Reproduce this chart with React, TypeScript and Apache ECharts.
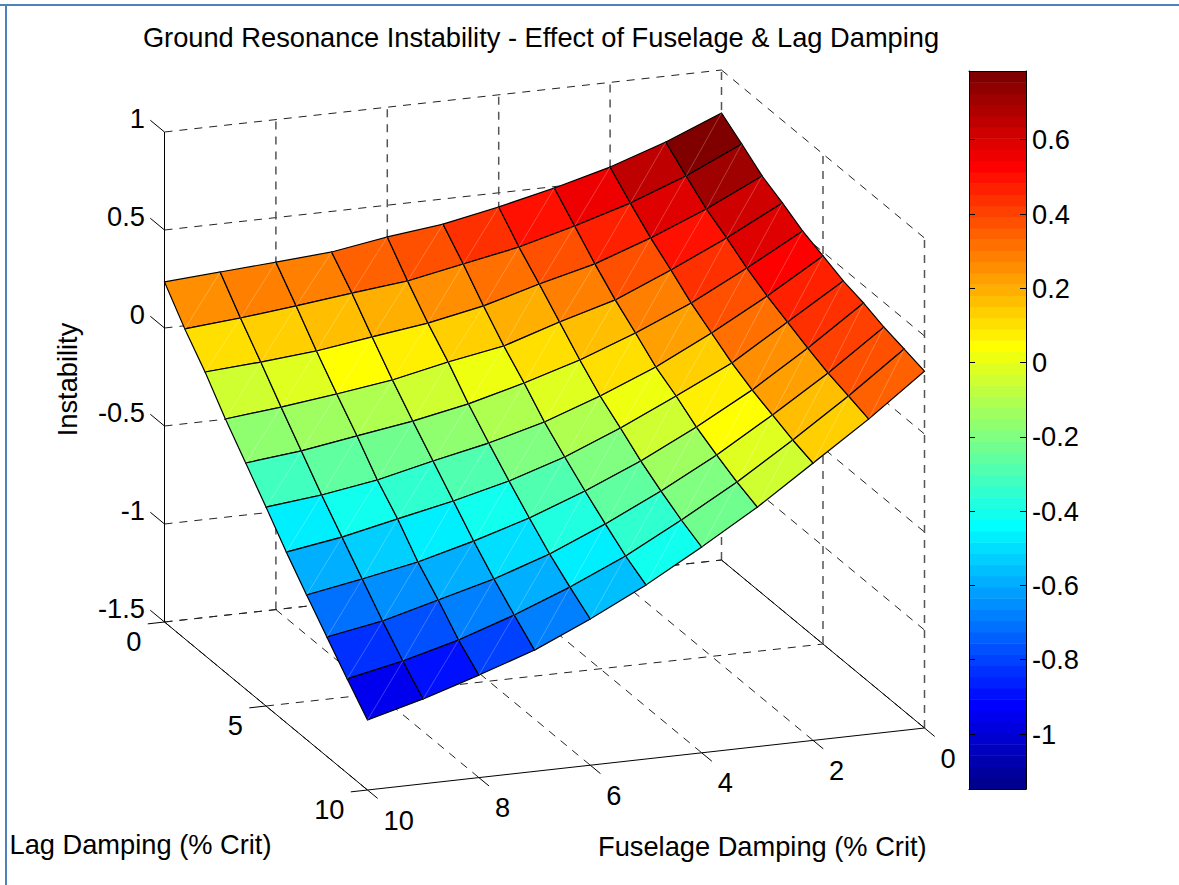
import React, { useEffect, useRef } from "react";
import * as echarts from "echarts";

// Instability at each Lag Damping value (index 0..10), one list per Fuselage Damping value
const zF10 = [0.235, 0.081, -0.053, -0.207, -0.346, -0.485, -0.629, -0.762, -0.891, -1.019, -1.143];
const zF9 = [0.254, 0.105, -0.034, -0.178, -0.316, -0.455, -0.584, -0.712, -0.841, -0.959, -1.067];
const zF8 = [0.273, 0.135, -0.009, -0.143, -0.271, -0.41, -0.523, -0.657, -0.765, -0.884, -0.977];
const zF7 = [0.293, 0.169, 0.031, -0.103, -0.227, -0.345, -0.463, -0.582, -0.69, -0.788, -0.881];
const zF6 = [0.338, 0.199, 0.07, -0.043, -0.171, -0.285, -0.393, -0.496, -0.594, -0.677, -0.754];
const zF5 = [0.372, 0.254, 0.126, 0.007, -0.096, -0.209, -0.302, -0.39, -0.472, -0.55, -0.612];
const zF4 = [0.428, 0.309, 0.206, 0.098, -0.01, -0.108, -0.186, -0.268, -0.336, -0.398, -0.45];
const zF3 = [0.493, 0.385, 0.277, 0.179, 0.096, 0.008, -0.054, -0.127, -0.184, -0.236, -0.278];
const zF2 = [0.568, 0.47, 0.378, 0.3, 0.217, 0.15, 0.083, 0.031, -0.011, -0.053, -0.085];
const zF1 = [0.664, 0.577, 0.494, 0.432, 0.364, 0.307, 0.26, 0.213, 0.171, 0.14, 0.108];
const zF0 = [0.781, 0.708, 0.631, 0.579, 0.521, 0.48, 0.438, 0.411, 0.374, 0.348, 0.321];

const fuselageValues = [10, 9, 8, 7, 6, 5, 4, 3, 2, 1, 0];
const lagValues = [0, 1, 2, 3, 4, 5, 6, 7, 8, 9, 10];
const surface = [zF10, zF9, zF8, zF7, zF6, zF5, zF4, zF3, zF2, zF1, zF0];

const zTicks = [-1.5, -1, -0.5, 0, 0.5, 1];
const fuselageTicks = [0, 2, 4, 6, 8, 10];
const lagTicks = [0, 5, 10];
const colorbarTicks = [-1, -0.8, -0.6, -0.4, -0.2, 0, 0.2, 0.4, 0.6];
const CMIN = -1.148;
const CMAX = 0.785;

const FONT = "Liberation Sans, Arial, sans-serif";
const FONT_SIZE = 27.25;
const Z0 = -1.5;
const Z1 = 1;

// orthographic view of the 3D box, in page pixels
function project(f: number, l: number, z: number): [number, number] {
  return [164.5 + 55.7 * (10 - f) + 20.3 * l, 622 - 6.2 * (10 - f) + 16.8 * l - 196 * (z - Z0)];
}

function jetColor(index: number): string {
  const n = 16;
  const u: number[] = [];
  for (let k = 1; k <= n; k++) u.push(k / n);
  for (let k = 1; k < n; k++) u.push(1);
  for (let k = n; k >= 1; k--) u.push(k / n);
  const gShift = 8;
  const at = (pos: number) => {
    const v = u[pos - 1];
    return v === undefined ? 0 : v;
  };
  const i1 = index + 1;
  const g = at(i1 - gShift);
  const r = at(i1 - gShift - n);
  const b = at(i1 - gShift + n);
  return `rgb(${Math.round(r * 255)},${Math.round(g * 255)},${Math.round(b * 255)})`;
}

function colorOf(z: number): string {
  const k = Math.floor(((z - CMIN) / (CMAX - CMIN)) * 64);
  return jetColor(Math.max(0, Math.min(63, k)));
}

type Seg = [number, number, number, number, number, number, number];
const DASH = 0;
const SOLID = 1;
const DASH_VERTICAL = 2;

function buildSegments(): Seg[] {
  const s: Seg[] = [];
  // wall L = 0 and wall F = 0
  zTicks.forEach((z) => {
    s.push([10, 0, z, 0, 0, z, DASH]);
    s.push([0, 0, z, 0, 10, z, DASH]);
  });
  fuselageTicks.forEach((f) => {
    if (f !== 10) s.push([f, 0, Z0, f, 0, Z1, DASH_VERTICAL]);
    s.push([f, 0, Z0, f, 10, Z0, f === 0 ? SOLID : DASH]);
  });
  lagTicks.forEach((l) => {
    if (l !== 0) s.push([0, l, Z0, 0, l, Z1, DASH_VERTICAL]);
    s.push([10, l, Z0, 0, l, Z0, l === 10 ? SOLID : DASH]);
  });
  // outer axes
  s.push([10, 0, Z0, 10, 0, Z1, SOLID]);
  s.push([10, 0, Z0, 10, 10, Z0, SOLID]);
  // axis tick marks
  zTicks.forEach((z) => s.push([10, 0, z, 10, -0.7, z, SOLID]));
  lagTicks.forEach((l) => s.push([10, l, Z0, 10.3, l, Z0, SOLID]));
  fuselageTicks.forEach((f) => s.push([f, 10, Z0, f, 10.5, Z0, SOLID]));
  return s;
}

type Lab = { f: number; l: number; z: number; text: string; dx: number; dy: number; align: string };

function buildLabels(): Lab[] {
  const out: Lab[] = [];
  zTicks.forEach((z) =>
    out.push({ f: 10, l: 0, z, text: String(z), dx: -19.5, dy: -14, align: "right" })
  );
  fuselageTicks.forEach((f) =>
    out.push({ f, l: 10, z: Z0, text: String(f), dx: 16, dy: 30, align: "left" })
  );
  lagTicks.forEach((l) =>
    out.push({ f: 10, l, z: Z0, text: String(l), dx: -23, dy: 19.5, align: "right" })
  );
  return out;
}

export default function App() {
  const ref = useRef<HTMLDivElement>(null);
  useEffect(() => {
    document.body.style.margin = "0";
    const chart = echarts.init(ref.current!, undefined, { renderer: "svg" });
    const segments = buildSegments();
    const labels = buildLabels();

    const cells: number[][] = [];
    for (let i = 0; i < fuselageValues.length - 1; i++) {
      for (let j = 0; j < lagValues.length - 1; j++) cells.push([i, j]);
    }
    const bands: number[][] = [];
    for (let k = 0; k < 64; k++) {
      bands.push([
        CMIN + ((CMAX - CMIN) * k) / 64,
        CMIN + ((CMAX - CMIN) * (k + 1)) / 64,
        k,
      ]);
    }

    const vertex = (api: any, i: number, j: number) =>
      api.coord(project(fuselageValues[i], lagValues[j], surface[i][j]));

    chart.setOption({
      animation: false,
      backgroundColor: "#ffffff",
      title: {
        text: "Ground Resonance Instability - Effect of Fuselage & Lag Damping",
        left: 536,
        top: 19,
        textAlign: "center",
        textStyle: { fontFamily: FONT, fontSize: FONT_SIZE, fontWeight: "normal", color: "#000" },
      },
      grid: [
        { left: 0, top: 0, width: 1179, height: 885 },
        { left: 969, top: 71, width: 57, height: 718 },
      ],
      xAxis: [
        { type: "value", gridIndex: 0, min: 0, max: 1179, show: false },
        {
          type: "value",
          gridIndex: 1,
          min: 0,
          max: 1,
          position: "bottom",
          z: 5,
          axisLine: { show: true, onZero: false, lineStyle: { color: "#000", width: 1 } },
          axisTick: { show: false },
          axisLabel: { show: false },
          splitLine: { show: false },
        },
        {
          type: "value",
          gridIndex: 1,
          min: 0,
          max: 1,
          position: "top",
          z: 5,
          axisLine: { show: true, onZero: false, lineStyle: { color: "#000", width: 1 } },
          axisTick: { show: false },
          axisLabel: { show: false },
          splitLine: { show: false },
        },
      ],
      yAxis: [
        { type: "value", gridIndex: 0, min: 0, max: 885, inverse: true, show: false },
        {
          type: "value",
          gridIndex: 1,
          min: CMIN,
          max: CMAX,
          position: "right",
          z: 5,
          axisLine: { show: true, onZero: false, lineStyle: { color: "#000", width: 1 } },
          axisTick: {
            show: true,
            inside: true,
            length: 6,
            customValues: colorbarTicks,
            lineStyle: { color: "#000" },
          },
          axisLabel: {
            show: true,
            customValues: colorbarTicks,
            margin: 6,
            color: "#000",
            fontFamily: FONT,
            fontSize: FONT_SIZE,
            formatter: (v: number) => String(v),
          },
          splitLine: { show: false },
        },
        {
          type: "value",
          gridIndex: 1,
          min: CMIN,
          max: CMAX,
          position: "left",
          z: 5,
          axisLine: { show: true, onZero: false, lineStyle: { color: "#000", width: 1 } },
          axisTick: {
            show: true,
            inside: true,
            length: 6,
            customValues: colorbarTicks,
            lineStyle: { color: "#000" },
          },
          axisLabel: { show: false },
          splitLine: { show: false },
        },
      ],
      series: [
        {
          type: "custom",
          name: "box",
          coordinateSystem: "cartesian2d",
          xAxisIndex: 0,
          yAxisIndex: 0,
          silent: true,
          clip: false,
          data: segments.map((_, idx) => [idx, idx]),
          renderItem: (params: any, api: any) => {
            const s = segments[params.dataIndex];
            const a = api.coord(project(s[0], s[1], s[2]));
            const b = api.coord(project(s[3], s[4], s[5]));
            const kind = s[6];
            return {
              type: "line",
              shape: { x1: a[0], y1: a[1], x2: b[0], y2: b[1] },
              style: {
                stroke: kind === SOLID ? "#000" : kind === DASH ? "#222" : "#555",
                lineWidth: kind === DASH_VERTICAL ? 1.5 : 1,
                lineDash: kind === SOLID ? undefined : [8, 7],
                fill: null,
              },
            };
          },
        },
        {
          type: "custom",
          name: "surface",
          coordinateSystem: "cartesian2d",
          xAxisIndex: 0,
          yAxisIndex: 0,
          silent: true,
          clip: false,
          data: cells,
          renderItem: (params: any, api: any) => {
            const [i, j] = cells[params.dataIndex];
            const p00 = vertex(api, i, j);
            const p10 = vertex(api, i + 1, j);
            const p11 = vertex(api, i + 1, j + 1);
            const p01 = vertex(api, i, j + 1);
            return {
              type: "group",
              children: [
                {
                  type: "polygon",
                  shape: { points: [p00, p10, p11, p01] },
                  style: {
                    fill: colorOf(surface[i + 1][j]),
                    stroke: "#000",
                    lineWidth: 1.2,
                  },
                  z2: 1,
                },
                {
                  type: "line",
                  shape: { x1: p01[0], y1: p01[1], x2: p10[0], y2: p10[1] },
                  style: { stroke: "rgba(255,255,255,0.3)", lineWidth: 0.8, fill: null },
                  z2: 2,
                },
              ],
            };
          },
        },
        {
          type: "custom",
          name: "tickLabels",
          coordinateSystem: "cartesian2d",
          xAxisIndex: 0,
          yAxisIndex: 0,
          silent: true,
          clip: false,
          data: labels.map((_, idx) => [idx, idx]),
          renderItem: (params: any, api: any) => {
            const lab = labels[params.dataIndex];
            const p = api.coord(project(lab.f, lab.l, lab.z));
            return {
              type: "text",
              x: p[0] + lab.dx,
              y: p[1] + lab.dy,
              style: {
                text: lab.text,
                fill: "#000",
                font: `${FONT_SIZE}px ${FONT}`,
                align: lab.align,
                verticalAlign: "middle",
              },
            };
          },
        },
        {
          type: "custom",
          name: "colorbar",
          coordinateSystem: "cartesian2d",
          xAxisIndex: 1,
          yAxisIndex: 1,
          silent: true,
          data: bands,
          renderItem: (params: any, api: any) => {
            const b = bands[params.dataIndex];
            const a = api.coord([0, b[1]]);
            const c = api.coord([1, b[0]]);
            return {
              type: "rect",
              shape: { x: a[0], y: a[1], width: c[0] - a[0], height: c[1] - a[1] + 0.5 },
              style: { fill: jetColor(b[2]) },
            };
          },
        },
      ],
      graphic: [
        {
          type: "line",
          silent: true,
          shape: { x1: 0, y1: 5, x2: 1179, y2: 5 },
          style: { stroke: "#4F81BD", lineWidth: 2 },
        },
        {
          type: "line",
          silent: true,
          shape: { x1: 6, y1: 5, x2: 6, y2: 885 },
          style: { stroke: "#4F81BD", lineWidth: 2 },
        },
        {
          type: "text",
          x: 67,
          y: 379.5,
          rotation: Math.PI / 2,
          style: {
            text: "Instability",
            fill: "#000",
            font: `${FONT_SIZE}px ${FONT}`,
            align: "center",
            verticalAlign: "middle",
          },
        },
        {
          type: "text",
          x: 9.5,
          y: 844,
          style: {
            text: "Lag Damping (% Crit)",
            fill: "#000",
            font: `${FONT_SIZE}px ${FONT}`,
            align: "left",
            verticalAlign: "middle",
          },
        },
        {
          type: "text",
          x: 598,
          y: 846,
          style: {
            text: "Fuselage Damping (% Crit)",
            fill: "#000",
            font: `${FONT_SIZE}px ${FONT}`,
            align: "left",
            verticalAlign: "middle",
          },
        },
      ],
    });
    return () => chart.dispose();
  }, []);
  return <div ref={ref} style={{ width: 1179, height: 885 }} />;
}
